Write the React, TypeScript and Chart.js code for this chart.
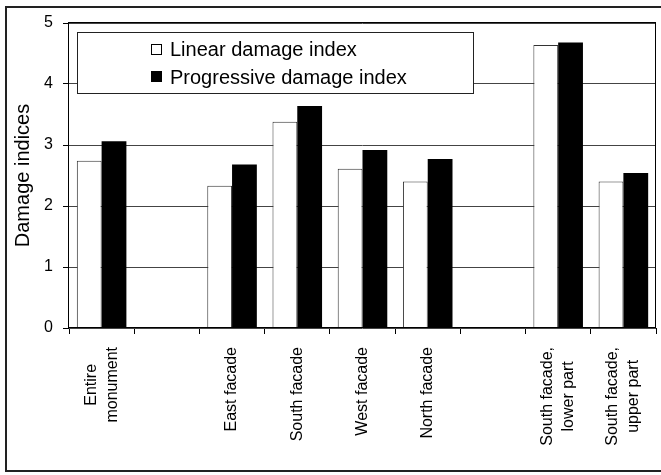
import React, { useEffect, useRef } from 'react';
import { Chart, registerables } from 'chart.js';

Chart.register(...registerables);

const categories: string[][] = [
  ['Entire', 'monument'],
  [],
  ['East facade'],
  ['South facade'],
  ['West facade'],
  ['North facade'],
  [],
  ['South facade,', 'lower part'],
  ['South facade,', 'upper part'],
];
const linearIndex: (number | null)[] = [2.74, null, 2.33, 3.38, 2.61, 2.4, null, 4.64, 2.4];
const progressiveIndex: (number | null)[] = [3.06, null, 2.68, 3.64, 2.92, 2.77, null, 4.68, 2.54];
const seriesNames = ['Linear damage index', 'Progressive damage index'];
const yTitle = 'Damage indices';
const yMin = 0;
const yMax = 5;
const yStep = 1;

const FONT = "'Liberation Sans', Arial, sans-serif";

const decorPlugin = {
  id: 'decor',
  beforeDraw(chart: any) {
    const ctx = chart.ctx;
    ctx.save();
    ctx.fillStyle = '#fff';
    ctx.fillRect(0, 0, chart.width, chart.height);
    ctx.strokeStyle = '#222';
    ctx.lineWidth = 2;
    ctx.strokeRect(6, 7, chart.width + 10, 464);
    ctx.restore();
  },
  afterDatasetsDraw(chart: any) {
    const ctx = chart.ctx;
    const a = chart.chartArea;
    ctx.save();
    // plot border
    ctx.strokeStyle = '#000';
    ctx.lineWidth = 1;
    ctx.strokeRect(a.left - 0.5, a.top - 0.5, a.right - a.left, a.bottom - a.top);
    // legend box
    const lx = a.left + 8;
    const ly = a.top + 9;
    ctx.fillStyle = '#fff';
    ctx.fillRect(lx, ly, 396, 61);
    ctx.strokeStyle = '#222';
    ctx.strokeRect(lx + 0.5, ly + 0.5, 396, 61);
    const rows = [
      { fill: '#fff', y: ly + 12, base: ly + 24 },
      { fill: '#000', y: ly + 39, base: ly + 51.5 },
    ];
    ctx.font = `20px ${FONT}`;
    ctx.textAlign = 'left';
    ctx.textBaseline = 'alphabetic';
    rows.forEach((r, i) => {
      ctx.fillStyle = r.fill;
      ctx.fillRect(lx + 74, r.y, 11, 11);
      ctx.strokeStyle = '#000';
      ctx.strokeRect(lx + 74.5, r.y + 0.5, 10, 10);
      ctx.fillStyle = '#000';
      ctx.fillText(seriesNames[i], lx + 93, r.base);
    });
    ctx.restore();
  },
  afterDraw(chart: any) {
    const ctx = chart.ctx;
    const xs = chart.scales.x;
    const a = chart.chartArea;
    ctx.save();
    ctx.font = `16px ${FONT}`;
    ctx.fillStyle = '#000';
    ctx.textAlign = 'center';
    ctx.textBaseline = 'middle';
    categories.forEach((lines, i) => {
      if (!lines.length) return;
      const x = xs.getPixelForValue(i);
      const w = Math.max(...lines.map((l) => ctx.measureText(l).width));
      const yc = a.bottom + 19 + w / 2;
      ctx.save();
      ctx.translate(x, yc);
      ctx.rotate(-Math.PI / 2);
      lines.forEach((l, j) => ctx.fillText(l, 0, (j - (lines.length - 1) / 2) * 21));
      ctx.restore();
    });
    ctx.restore();
  },
};

export default function App() {
  const ref = useRef<HTMLCanvasElement>(null);
  useEffect(() => {
    if (!ref.current) return;
    const chart = new Chart(ref.current, {
      type: 'bar',
      data: {
        labels: categories.map((l) => l.join(' ')),
        datasets: [
          {
            label: seriesNames[0],
            data: linearIndex,
            backgroundColor: '#fff',
            borderColor: '#333',
            borderWidth: 1,
            categoryPercentage: 0.76,
            barPercentage: 1,
          },
          {
            label: seriesNames[1],
            data: progressiveIndex,
            backgroundColor: '#000',
            borderColor: '#000',
            borderWidth: 0,
            categoryPercentage: 0.76,
            barPercentage: 1,
          },
        ],
      },
      options: {
        responsive: false,
        animation: false,
        devicePixelRatio: 1,
        layout: { padding: { top: 23, right: 5, left: 0, bottom: 0 } },
        plugins: {
          legend: { display: false },
          tooltip: { enabled: false },
        },
        scales: {
          x: {
            grid: {
              offset: true,
              drawOnChartArea: false,
              drawTicks: true,
              tickLength: 6,
              tickColor: '#000',
              color: '#000',
            },
            border: { display: false },
            ticks: { display: false },
            afterFit: (s: any) => {
              s.height = 147;
            },
          },
          y: {
            min: yMin,
            max: yMax,
            ticks: {
              stepSize: yStep,
              color: '#000',
              font: { family: FONT, size: 16 },
              padding: 10,
            },
            grid: {
              color: '#444',
              tickLength: 6,
              tickColor: '#000',
            },
            border: { display: false },
            title: {
              display: true,
              text: yTitle,
              color: '#000',
              font: { family: FONT, size: 20 },
              padding: { top: 11, bottom: 0 },
            },
            afterFit: (s: any) => {
              s.width = 69;
            },
          },
        },
      },
      plugins: [decorPlugin],
    });
    return () => chart.destroy();
  }, []);
  return (
    <div style={{ position: 'absolute', left: 0, top: 0, width: 661, height: 475 }}>
      <canvas ref={ref} width={661} height={475} style={{ display: 'block' }} />
    </div>
  );
}
